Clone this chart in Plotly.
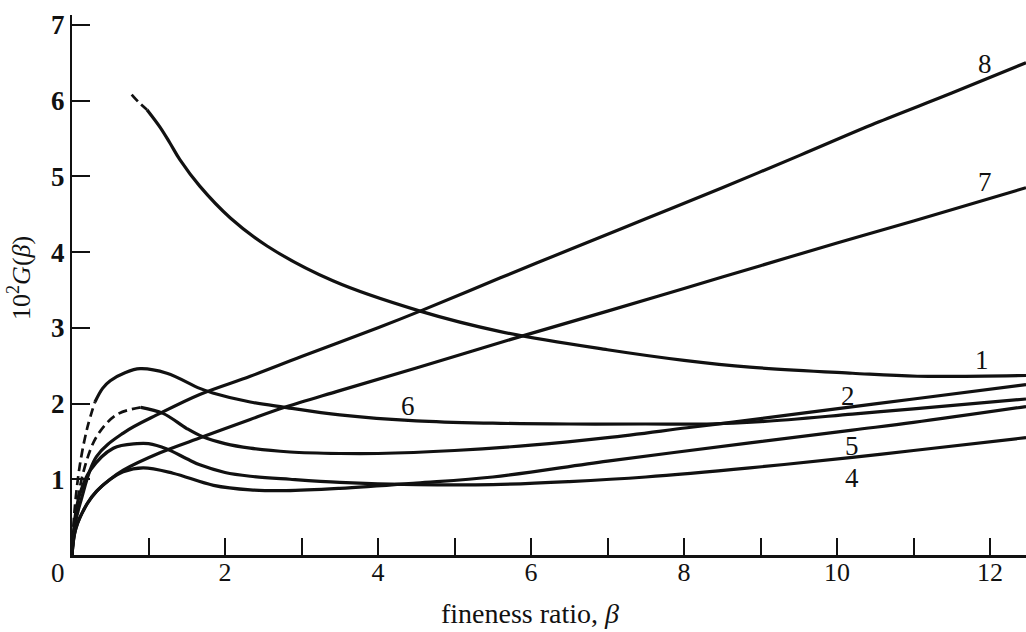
import plotly.graph_objects as go

# ---- curve data: fineness ratio beta vs 10^2 G(beta) ----
# dashed (extrapolated) leading portions
beta_1_dash = [0.78, 0.88, 0.98]
g_1_dash = [6.08, 5.97, 5.88]
beta_2_dash = [0.0, 0.05, 0.15, 0.32, 0.58, 0.9]
g_2_dash = [0.0, 0.55, 1.1, 1.56, 1.85, 1.95]
beta_6_dash = [0.0, 0.03, 0.1, 0.2, 0.3]
g_6_dash = [0.0, 0.55, 1.17, 1.68, 2.02]

# solid portions
beta_1 = [0.98, 1.15, 1.28, 1.41, 1.67, 2.07, 2.55, 3.41, 4.55, 5.6, 7.0, 8.0, 8.86, 10.2, 11.05, 12.47]
g_1 = [5.88, 5.65, 5.44, 5.22, 4.87, 4.45, 4.08, 3.62, 3.22, 2.95, 2.71, 2.57, 2.48, 2.40, 2.36, 2.37]

beta_2 = [0.9, 1.19, 1.5, 1.71, 2.0, 2.33, 2.85, 3.5, 4.0, 5.0, 6.0, 7.0, 8.04, 9.0, 10.14, 11.0, 12.47]
g_2 = [1.95, 1.87, 1.67, 1.56, 1.47, 1.41, 1.36, 1.34, 1.34, 1.38, 1.45, 1.55, 1.68, 1.80, 1.95, 2.06, 2.25]

beta_4 = [0.0, 0.04, 0.1, 0.24, 0.54, 0.85, 1.0, 1.24, 1.5, 1.67, 2.0, 2.33, 2.85, 3.5, 4.5, 5.5, 6.5, 7.5, 8.86, 10.2, 11.0, 12.47]
g_4 = [0.0, 0.5, 0.8, 1.12, 1.41, 1.47, 1.47, 1.40, 1.27, 1.19, 1.09, 1.04, 1.0, 0.96, 0.93, 0.93, 0.97, 1.03, 1.15, 1.29, 1.38, 1.55]

beta_5 = [0.0, 0.05, 0.2, 0.32, 0.5, 0.67, 0.93, 1.32, 1.85, 2.33, 2.8, 3.5, 4.5, 5.5, 7.0, 8.86, 10.2, 11.0, 12.47]
g_5 = [0.0, 0.35, 0.68, 0.84, 1.0, 1.1, 1.15, 1.08, 0.92, 0.86, 0.85, 0.88, 0.95, 1.03, 1.24, 1.48, 1.65, 1.75, 1.96]

beta_6 = [0.3, 0.4, 0.5, 0.7, 0.89, 1.24, 1.67, 1.84, 2.33, 2.78, 3.5, 4.5, 5.5, 6.5, 7.5, 8.3, 9.0, 10.2, 11.0, 12.47]
g_6 = [2.02, 2.2, 2.3, 2.41, 2.46, 2.40, 2.20, 2.14, 2.02, 1.95, 1.85, 1.77, 1.74, 1.73, 1.73, 1.73, 1.76, 1.86, 1.93, 2.06]

beta_7 = [0.0, 0.05, 0.2, 0.32, 0.5, 0.67, 1.15, 1.71, 2.33, 2.78, 3.5, 4.5, 5.88, 7.0, 8.0, 9.0, 10.0, 11.0, 12.47]
g_7 = [0.0, 0.35, 0.68, 0.84, 1.0, 1.12, 1.35, 1.56, 1.79, 1.95, 2.17, 2.47, 2.89, 3.22, 3.52, 3.82, 4.12, 4.41, 4.85]

beta_8 = [0.0, 0.04, 0.12, 0.32, 0.67, 1.15, 1.67, 2.33, 3.0, 4.0, 4.55, 5.6, 6.5, 7.5, 8.5, 9.52, 10.5, 11.5, 12.47]
g_8 = [0.0, 0.4, 0.73, 1.3, 1.61, 1.87, 2.12, 2.36, 2.62, 3.0, 3.22, 3.66, 4.03, 4.44, 4.85, 5.28, 5.70, 6.10, 6.50]

# curve number labels and where they sit
curve_names = ["1", "2", "4", "5", "6", "7", "8"]
label_beta = [11.9, 10.14, 10.2, 10.2, 4.39, 11.93, 11.93]
label_g = [2.58, 2.10, 1.02, 1.44, 1.97, 4.92, 6.48]

x_tick_vals = list(range(0, 13))
x_tick_text = ["", "", "2", "", "4", "", "6", "", "8", "", "10", "", "12"]
y_tick_vals = [1, 2, 3, 4, 5, 6, 7]

SERIF = "Liberation Serif, DejaVu Serif, serif"
INK = "#111111"
LW = 3.2

fig = go.Figure()

solid = [(beta_1, g_1), (beta_2, g_2), (beta_4, g_4), (beta_5, g_5),
         (beta_6, g_6), (beta_7, g_7), (beta_8, g_8)]
dashed = [(beta_1_dash, g_1_dash), (beta_2_dash, g_2_dash), (beta_6_dash, g_6_dash)]

for bx, gy in solid:
    fig.add_trace(go.Scatter(x=bx, y=gy, mode="lines",
                             line=dict(color=INK, width=LW, shape="spline", smoothing=1.0),
                             hoverinfo="skip", showlegend=False))
for bx, gy in dashed:
    fig.add_trace(go.Scatter(x=bx, y=gy, mode="lines",
                             line=dict(color=INK, width=LW - 0.5, shape="spline", smoothing=1.0,
                                       dash="9px,5px"),
                             hoverinfo="skip", showlegend=False))

for name, bx, gy in zip(curve_names, label_beta, label_g):
    fig.add_annotation(x=bx, y=gy, text=name, showarrow=False,
                       font=dict(family=SERIF, size=27, color=INK))

# corner zero shared by both axes
fig.add_annotation(xref="paper", yref="paper", x=-0.0147, y=-0.033, text="0",
                   xanchor="center", yanchor="middle", showarrow=False,
                   font=dict(family=SERIF, size=27, color=INK))
# axis titles
fig.add_annotation(xref="paper", yref="paper", x=0.48, y=-0.108,
                   xanchor="center", yanchor="middle",
                   text="fineness ratio, <i>β</i>", showarrow=False,
                   font=dict(family=SERIF, size=28, color=INK))
fig.add_annotation(xref="paper", yref="paper", x=-0.0545, y=0.513,
                   xanchor="center", yanchor="middle",
                   text="10<sup>2</sup><i>G</i>(<i>β</i>)", textangle=-90, showarrow=False,
                   font=dict(family=SERIF, size=26, color=INK))

fig.update_xaxes(range=[0, 12.47], tickmode="array", tickvals=x_tick_vals, ticktext=x_tick_text,
                 ticks="inside", ticklen=17, tickwidth=1.5, tickcolor=INK,
                 showline=True, linecolor=INK, linewidth=2.5, showgrid=False, zeroline=False,
                 tickfont=dict(family=SERIF, size=26, color=INK), ticklabelstandoff=-8)
fig.update_yaxes(range=[0, 7.13], tickmode="array", tickvals=y_tick_vals,
                 ticks="inside", ticklen=18, tickwidth=1.5, tickcolor=INK,
                 showline=True, linecolor=INK, linewidth=2.2, showgrid=False, zeroline=False,
                 tickfont=dict(family=SERIF, size=27, color=INK, weight="bold"),
                 ticklabelstandoff=0)

fig.update_layout(width=1026, height=632, margin=dict(l=72, r=0, t=15, b=77),
                  paper_bgcolor="white", plot_bgcolor="white", showlegend=False)

fig.write_html("out.html")
